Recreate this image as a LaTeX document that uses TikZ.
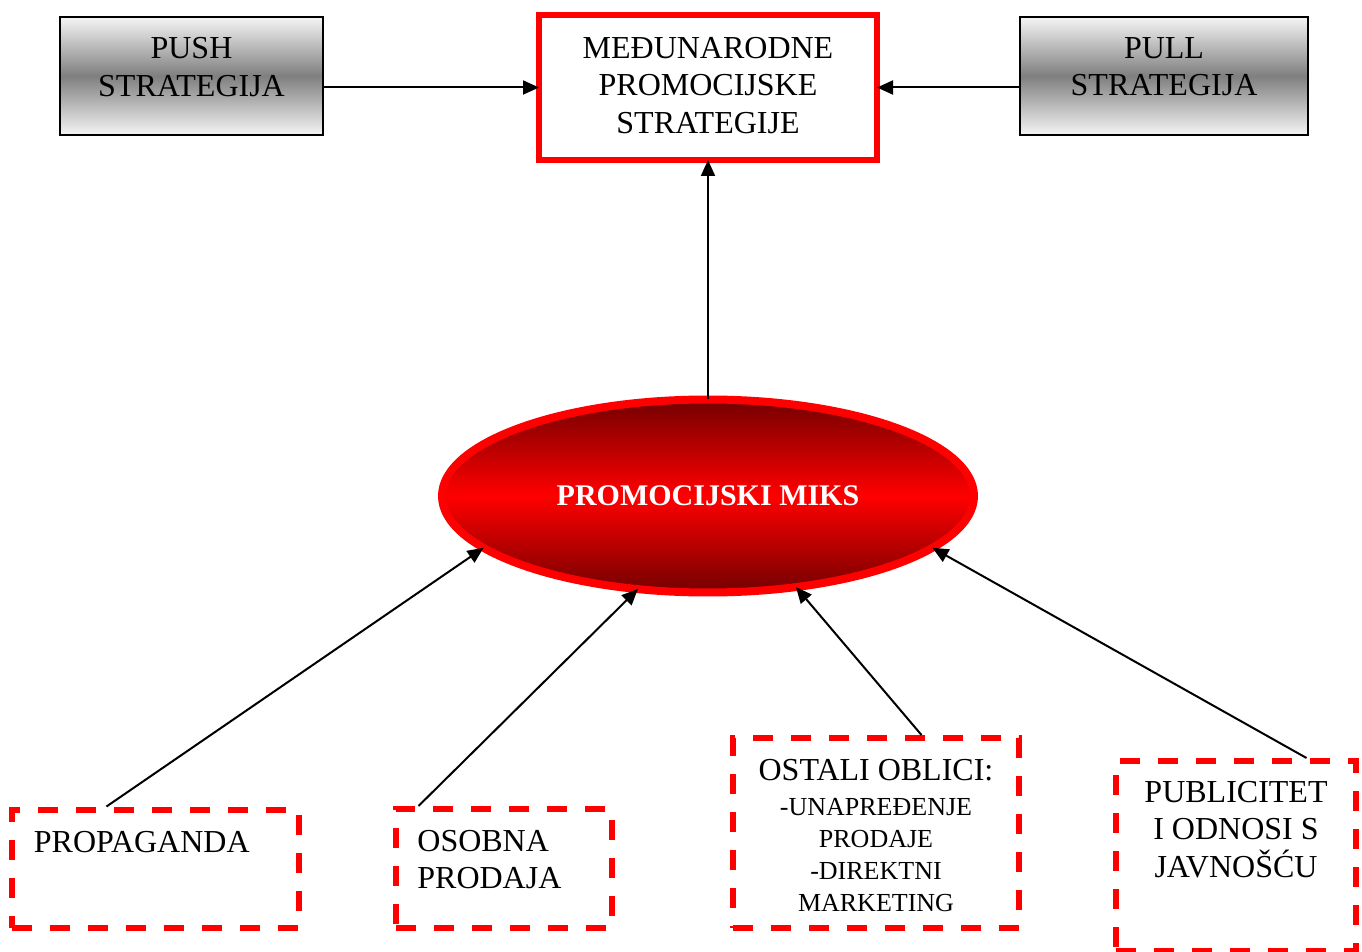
\documentclass[tikz,border=0pt]{standalone}
\usepackage{fontspec}
\setmainfont{Liberation Serif}
\usetikzlibrary{shapes.geometric,arrows.meta,positioning,calc}

\tikzset{gbox/.style={draw,line width=0.8pt,inner sep=0pt,
  top color=black!4,bottom color=black!4,middle color=black!50}}
\tikzset{dbox/.style={draw=red,line width=3pt,inner sep=0pt,dash pattern=on 10pt off 9pt}}
\tikzset{txt/.style={inner sep=0pt,align=center,font=\fontsize{16}{18.7}\selectfont}}
\tikzset{arr/.style={line width=1pt,-{Triangle[length=8pt,width=7pt]}}}

\begin{document}
\begin{tikzpicture}[x=0.5pt,y=-0.5pt]
  \useasboundingbox (0,0) rectangle (1362,952);
  % top row
  \node[gbox,minimum width=131.5pt,minimum height=59pt] (push) at (191.5,76) {};
  \node[draw=red,line width=3pt,inner sep=0pt,outer sep=0pt,minimum width=169pt,minimum height=72.5pt] (top) at (708,87.5) {};
  \node[gbox,minimum width=144pt,minimum height=59pt] (pull) at (1164,76) {};
  \node[txt,below=10.5pt of push.north] (pusht) {PUSH\\STRATEGIJA};
  \node[txt,below=11pt of top.north] (topt) {MEĐUNARODNE\\PROMOCIJSKE\\STRATEGIJE};
  \node[txt,below=10.5pt of pull.north] (pullt) {PULL\\STRATEGIJA};
  % promocijski miks
  \node[ellipse,draw=red,line width=4pt,inner sep=0pt,outer sep=0pt,minimum width=266pt,minimum height=96.5pt,
    top color=red!45!black,bottom color=red!45!black,middle color=red,
    text=white,font=\fontsize{15}{17}\selectfont\bfseries] (miks) at (708,496) {PROMOCIJSKI MIKS};
  % bottom row
  \node[dbox,minimum width=143.5pt,minimum height=59pt] (prop) at (155,868.5) {};
  \node[dbox,minimum width=108pt,minimum height=59.5pt] (osob) at (504,868.5) {};
  \node[dbox,minimum width=143pt,minimum height=95pt] (ost) at (876,833) {};
  \node[dbox,minimum width=120pt,minimum height=95pt] (pub) at (1236,856) {};
  \node[txt,anchor=north west,below right=12pt and 12.5pt of prop.north west] (propt) {PROPAGANDA};
  \node[txt,align=left,anchor=north west,below right=12pt and 12pt of osob.north west] (osobt) {OSOBNA\\PRODAJA};
  \node[txt,below=12pt of ost.north] (ost1) {OSTALI OBLICI:};
  \node[txt,font=\fontsize{13}{16}\selectfont,below=8pt of ost1] (ost2) {-UNAPREĐENJE\\PRODAJE\\-DIREKTNI\\MARKETING};
  \node[txt,below=11.5pt of pub.north] (pubt) {PUBLICITET\\I ODNOSI S\\JAVNOŠĆU};
  % connectors
  \draw[arr] (push.east |- top.west) -- (top.west);
  \draw[arr] (pull.west |- top.east) -- (top.east);
  \draw[arr] (miks.north) -- (top.south);
  \draw[arr] ($(prop.north west)+(98,0)$) -- (miks.193);
  \draw[arr] ($(osob.north west)+(25.5,0)$) -- (miks.233);
  \draw[arr] ($(ost.north west)+(191.5,0)$) -- (miks.314);
  \draw[arr] ($(pub.north west)+(193.5,0)$) -- (miks.347);
\end{tikzpicture}
\end{document}
